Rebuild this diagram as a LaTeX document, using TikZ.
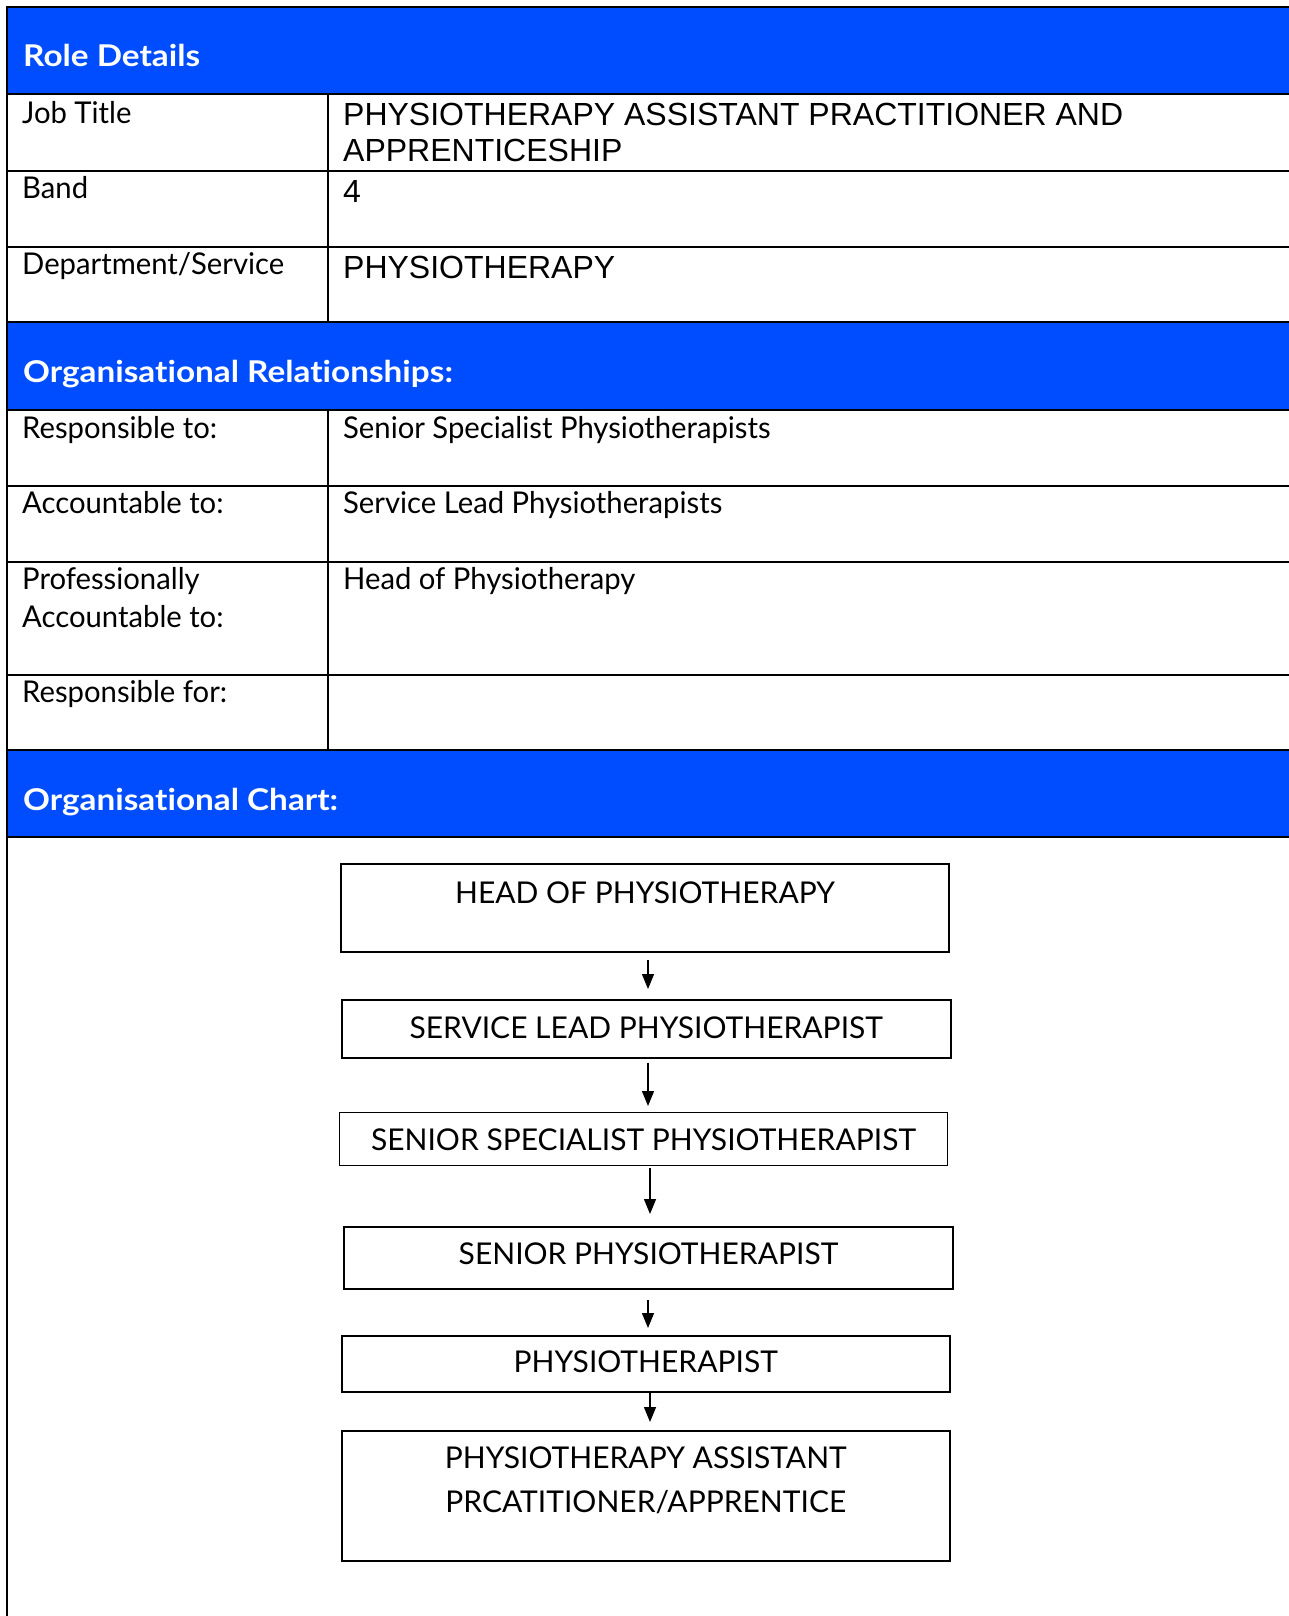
\documentclass[tikz,border=0pt]{standalone}
\usepackage{fontspec}
\newfontfamily\gillf[Ligatures=NoCommon]{Lato}
\newfontfamily\gilll[FakeStretch=0.975,Ligatures=NoCommon]{Lato}
\newfontfamily\gillh[FakeStretch=1.11,Ligatures=NoCommon]{Lato}
\newfontfamily\arialf{Liberation Sans}
\usetikzlibrary{arrows.meta,calc}
\definecolor{hdrblue}{RGB}{0,77,255}
\begin{document}
\begin{tikzpicture}[x=1pt,y=-1pt,
  tline/.style={line width=2pt,black},
  hdr/.style={anchor=base west,inner sep=0,text=white,font=\gillh\bfseries\fontsize{30}{36}\selectfont},
  lbl/.style={anchor=base west,inner sep=0,font=\gilll\fontsize{30}{38}\selectfont,align=left},
  val/.style={anchor=base west,inner sep=0,font=\arialf\fontsize{32}{36}\selectfont,align=left},
  orgbox/.style={draw,line width=1.5pt,inner sep=0,anchor=north west,align=center,
     font=\gillf\fontsize{30}{44}\selectfont},
  arr/.style={line width=1.5pt,-{Triangle[length=15pt,width=12pt]}}]
\useasboundingbox (0,0) rectangle (1289,1616);
\fill[white] (0,0) rectangle (1289,1616);
% blue header bands
\fill[hdrblue] (7,7) rectangle (1289,94);
\fill[hdrblue] (7,322) rectangle (1289,410);
\fill[hdrblue] (7,750) rectangle (1289,837);
% table rules
\foreach \yy in {7,94,171,247,322,410,486,562,675,750,837}
  \draw[tline] (7,\yy) -- (1289,\yy);
\draw[tline] (328,94) -- (328,322);
\draw[tline] (328,410) -- (328,750);
\draw[tline] (7,6) -- (7,1616);
% headers
\node[hdr] (h1) at (23,67) {Role Details};
\node[hdr] (h2) at (23,382) {Organisational Relationships:};
\node[hdr] (h3) at (23,810) {Organisational Chart:};
% role details rows (multi-line nodes: base = last line)
\node[lbl] (l1) at (22,124) {Job Title};
\node[val] (v1) at (343,162) {PHYSIOTHERAPY ASSISTANT PRACTITIONER AND\\APPRENTICESHIP};
\node[lbl] (l2) at (22,199) {Band};
\node[val] (v2) at (343,202) {4};
\node[lbl] (l3) at (22,274) {Department/Service};
\node[val] (v3) at (343,278) {PHYSIOTHERAPY};
% organisational relationships rows
\node[lbl] (r1) at (22,438) {Responsible to:};
\node[lbl] (s1) at (343,438) {Senior Specialist Physiotherapists};
\node[lbl] (r2) at (22,513) {Accountable to:};
\node[lbl] (s2) at (343,513) {Service Lead Physiotherapists};
\node[lbl] (r3) at (22,627) {Professionally\\Accountable to:};
\node[lbl] (s3) at (343,589) {Head of Physiotherapy};
\node[lbl] (r4) at (22,702) {Responsible for:};
% organisational chart
\node[orgbox,line width=2pt,minimum width=608pt,text height=39pt,text depth=49pt] (head) at (340,863) {HEAD OF PHYSIOTHERAPY};
\node[orgbox,minimum width=609pt,text height=39pt,text depth=19pt] (serv) at (341,999) {SERVICE LEAD PHYSIOTHERAPIST};
\node[orgbox,line width=1pt,minimum width=608pt,text height=38pt,text depth=15pt] (spec) at (339,1112) {SENIOR SPECIALIST PHYSIOTHERAPIST};
\node[orgbox,line width=2pt,minimum width=609pt,text height=37pt,text depth=25pt] (senior) at (343,1226) {SENIOR PHYSIOTHERAPIST};
\node[orgbox,minimum width=608pt,text height=37pt,text depth=19pt] (phys) at (341,1335) {PHYSIOTHERAPIST};
\node[orgbox,minimum width=608pt,text height=82pt,text depth=48pt] (pap) at (341,1430) {PHYSIOTHERAPY ASSISTANT\\PRCATITIONER/APPRENTICE};
% connectors
\coordinate (ax1) at (648,0);
\coordinate (ax2) at (650,0);
\draw[arr] ($(head.south -| ax1)+(0,7)$) -- ($(serv.north -| ax1)+(0,-10)$);
\draw[arr] ($(serv.south -| ax1)+(0,4)$) -- ($(spec.north -| ax1)+(0,-6)$);
\draw[arr] ($(spec.south -| ax2)+(0,2)$) -- ($(senior.north -| ax2)+(0,-12)$);
\draw[arr] ($(senior.south -| ax1)+(0,10)$) -- ($(phys.north -| ax1)+(0,-7)$);
\draw[arr] ($(phys.south -| ax2)+(0,0)$) -- ($(pap.north -| ax2)+(0,-8)$);
\end{tikzpicture}
\end{document}
